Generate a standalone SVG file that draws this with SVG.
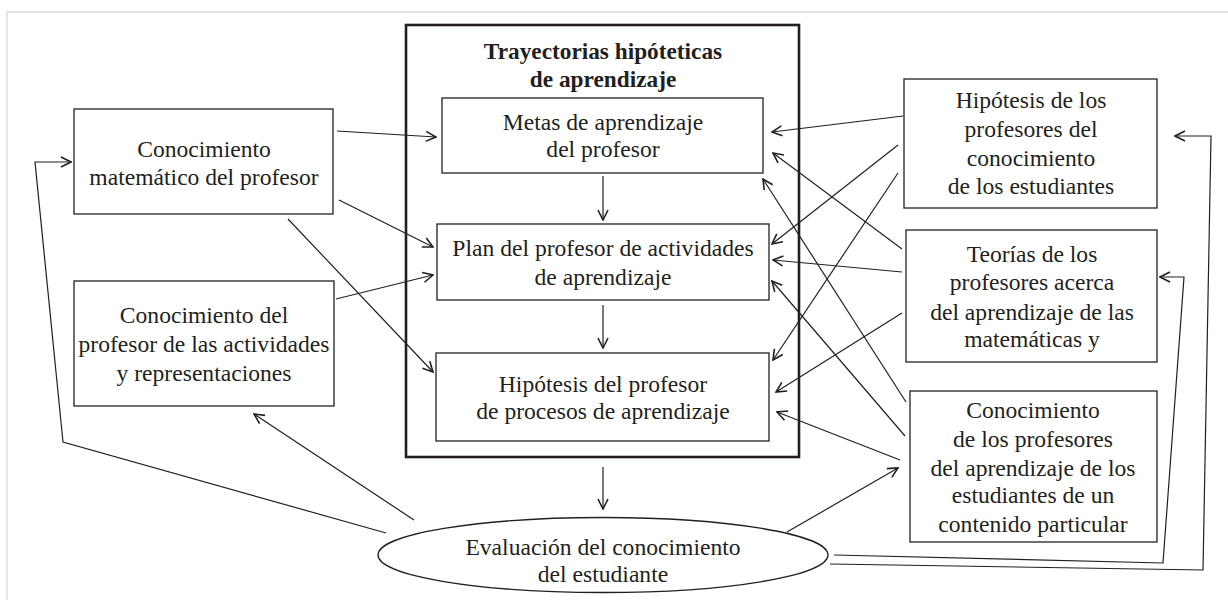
<svg xmlns="http://www.w3.org/2000/svg" width="1228" height="600" viewBox="0 0 1228 600">
<defs>
<marker id="arr" viewBox="0 0 12 12" refX="11" refY="6" markerWidth="12" markerHeight="12" markerUnits="userSpaceOnUse" orient="auto">
<path d="M1,1 L11,6 L1,11" fill="none" stroke="#231f20" stroke-width="1.6"/>
</marker>
</defs>
<style>
.box{fill:#fff;stroke:#231f20;stroke-width:1.3}
.t{font-family:"Liberation Serif","Times New Roman",serif;font-size:23.6px;fill:#231f20;text-anchor:middle}
.b{font-weight:bold;font-size:23.3px}
.c{fill:none;stroke:#231f20;stroke-width:1.2;marker-end:url(#arr)}
</style>
<rect x="7" y="12" width="1240" height="620" fill="#fff" stroke="#d4d4d4" stroke-width="1.2"/>

<g id="trayectorias">
<rect x="406" y="25" width="393" height="432" fill="none" stroke="#231f20" stroke-width="2.6"/>
<text class="t b" x="603" y="59">Trayectorias hipóteticas</text>
<text class="t b" x="603" y="87">de aprendizaje</text>
</g>
<g id="metas">
<rect class="box" x="442" y="98" width="321" height="75"/>
<text class="t" x="603" y="130">Metas de aprendizaje</text>
<text class="t" x="603" y="157">del profesor</text>
</g>
<g id="plan">
<rect class="box" x="437" y="224" width="332" height="76"/>
<text class="t" x="603" y="256">Plan del profesor de actividades</text>
<text class="t" x="603" y="285">de aprendizaje</text>
</g>
<g id="hipotesis-profesor">
<rect class="box" x="436" y="353" width="333" height="88"/>
<text class="t" x="603" y="392">Hipótesis del profesor</text>
<text class="t" x="603" y="419">de procesos de aprendizaje</text>
</g>
<g id="evaluacion">
<ellipse cx="603" cy="555" rx="225" ry="37.5" fill="#fff" stroke="#231f20" stroke-width="1.3"/>
<text class="t" x="603" y="555">Evaluación del conocimiento</text>
<text class="t" x="603" y="582">del estudiante</text>
</g>
<g id="conocimiento-matematico">
<rect class="box" x="74" y="109" width="259" height="105"/>
<text class="t" x="204" y="157">Conocimiento</text>
<text class="t" x="204" y="185">matemático del profesor</text>
</g>
<g id="conocimiento-actividades">
<rect class="box" x="74" y="281" width="260" height="125"/>
<text class="t" x="204" y="323">Conocimiento del</text>
<text class="t" x="204" y="352">profesor de las actividades</text>
<text class="t" x="204" y="381">y representaciones</text>
</g>
<g id="hipotesis-profesores">
<rect class="box" x="904" y="79" width="253" height="129"/>
<text class="t" x="1031" y="108">Hipótesis de los</text>
<text class="t" x="1031" y="137">profesores del</text>
<text class="t" x="1031" y="166">conocimiento</text>
<text class="t" x="1031" y="194">de los estudiantes</text>
</g>
<g id="teorias">
<rect class="box" x="906" y="230" width="251" height="132"/>
<text class="t" x="1032" y="262">Teorías de los</text>
<text class="t" x="1032" y="290">profesores acerca</text>
<text class="t" x="1032" y="320">del aprendizaje de las</text>
<text class="t" x="1032" y="347">matemáticas y</text>
</g>
<g id="conocimiento-profesores">
<rect class="box" x="910" y="391" width="247" height="151"/>
<text class="t" x="1033" y="418">Conocimiento</text>
<text class="t" x="1033" y="447">de los profesores</text>
<text class="t" x="1033" y="476">del aprendizaje de los</text>
<text class="t" x="1033" y="503">estudiantes de un</text>
<text class="t" x="1033" y="532">contenido particular</text>
</g>

<g id="connectors">
<path class="c" d="M603,176 L603,220"/>
<path class="c" d="M603,305 L603,348"/>
<path class="c" d="M603,467 L603,509"/>
<path class="c" d="M337,131 L436,137"/>
<path class="c" d="M339,200 L433,247"/>
<path class="c" d="M288,219 L433,372"/>
<path class="c" d="M336,299 L433,275"/>
<path class="c" d="M903,116 L772,132"/>
<path class="c" d="M898,145 L772,244"/>
<path class="c" d="M898,173 L773,360"/>
<path class="c" d="M902,249 L773,153"/>
<path class="c" d="M902,272 L773,260"/>
<path class="c" d="M902,313 L776,392"/>
<path class="c" d="M906,402 L763,179"/>
<path class="c" d="M905,436 L772,281"/>
<path class="c" d="M900,460 L777,412"/>
<path class="c" d="M787,532 L898,468"/>
<path class="c" d="M414,520 L254,414"/>
<path class="c" d="M386,533 L63,442 L35,162 L71,162"/>
<path class="c" d="M834,555 L1163,563 L1184,277 L1160,277"/>
<path class="c" d="M830,564 L1203,570 L1211,136 L1175,136"/>
</g>
</svg>
